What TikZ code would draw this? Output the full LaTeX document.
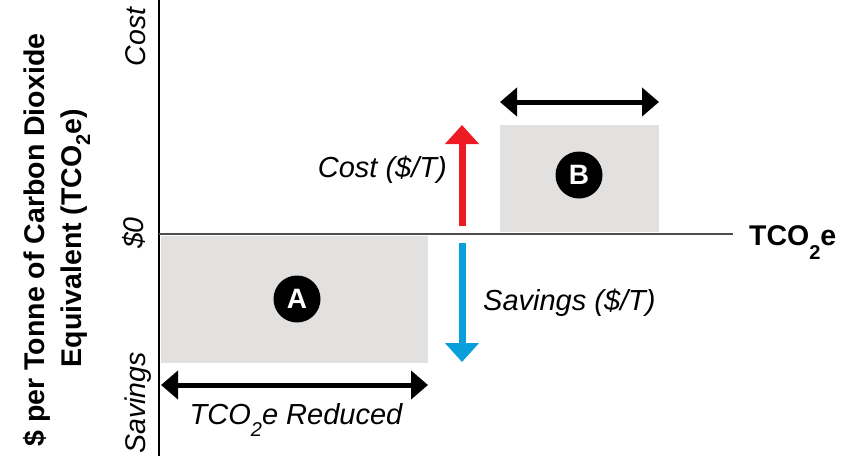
\documentclass[tikz,border=0pt]{standalone}
\usepackage{fontspec}
\setmainfont{Liberation Sans}
\usetikzlibrary{arrows.meta}
\definecolor{boxgray}{HTML}{E2E1E0}
\definecolor{costred}{HTML}{ED1C24}
\definecolor{saveblue}{HTML}{0A9FDB}
\definecolor{axisgray}{HTML}{4D4D4D}
\newcommand{\subtwo}[1][-11pt]{\raisebox{#1}{\fontsize{20}{20}\selectfont 2}}
\begin{document}
\begin{tikzpicture}[x=1pt,y=-1pt,
  font=\fontsize{28}{33}\selectfont,
  region/.style={fill=boxgray, draw=none, inner sep=0, anchor=north west},
  badge/.style={circle, fill=black, text=white, font=\fontsize{28}{28}\selectfont\bfseries, minimum size=47pt, inner sep=0},
  dblarrow/.style={line width=5pt, {Triangle[width=28pt,length=17pt]}-{Triangle[width=28pt,length=17pt]}},
  bigtip/.style={-{Triangle[width=33pt,length=19pt]}, line width=7pt},
  lbl/.style={inner sep=0, font=\fontsize{29}{34}\selectfont\itshape},
  axlbl/.style={inner sep=0, rotate=90, anchor=base, font=\fontsize{28.5}{33}\selectfont\itshape},
  ttl/.style={inner sep=0, rotate=90, anchor=base, font=\fontsize{28.5}{33}\selectfont\bfseries}]
\useasboundingbox (0,0) rectangle (856,456);

% shaded regions
\node[region, minimum width=267pt, minimum height=127pt] (boxA) at (161,236) {};
\node[region, minimum width=159pt, minimum height=107pt] (boxB) at (500,125) {};

% axes
\coordinate (ytop) at (159,0);
\coordinate (ybot) at (159,456);
\coordinate (xleft) at (159,233.5);
\coordinate (xright) at (733,233.5);
\draw[line width=1.5pt, black] (ytop) -- (ybot);
\draw[line width=2pt, axisgray] (xleft) -- (xright);
\node[inner sep=0, anchor=base west, font=\fontsize{28.5}{33}\selectfont\bfseries] (xlabel) at (749,245) {TCO\subtwo[-14pt]e};

% badges
\node[badge] (A) at (297,299) {A};
\node[badge] (B) at (579,175) {B};

% cost / savings arrows
\coordinate (redS) at (462,226);
\coordinate (redE) at (462,125);
\coordinate (blueS) at (462,243);
\coordinate (blueE) at (462,362);
\draw[bigtip, costred] (redS) -- (redE);
\draw[bigtip, saveblue] (blueS) -- (blueE);
\node[lbl, anchor=base east] (costlbl) at (447,177) {Cost (\$/T)};
\node[lbl, anchor=base west] (savelbl) at (483,310) {Savings (\$/T)};

% width arrows
\coordinate (bL) at (500,102);
\coordinate (bR) at (659,102);
\coordinate (aL) at (161,385);
\coordinate (aR) at (428,385);
\draw[dblarrow] (bL) -- (bR);
\draw[dblarrow] (aL) -- (aR);
\node[lbl, anchor=base] (reduced) at (296,424) {TCO\subtwo[-12pt]e Reduced};

% y axis labels
\node[axlbl] (ycost) at (145,37) {Cost};
\node[axlbl] (yzero) at (143,233) {\$0};
\node[axlbl] (ysave) at (145,403) {Savings};
\node[ttl] (title1) at (44,240) {\$ per Tonne of Carbon Dioxide};
\node[ttl] (title2) at (81,238) {Equivalent (TCO\subtwo[-9pt]e)};
\end{tikzpicture}
\end{document}
